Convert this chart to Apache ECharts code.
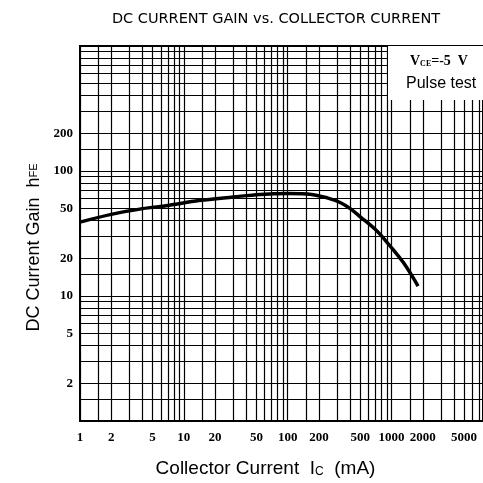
<!DOCTYPE html>
<html>
<head>
<meta charset="utf-8">
<script src="https://cdn.jsdelivr.net/npm/echarts@6/dist/echarts.min.js"></script>
<style>
html,body{margin:0;padding:0;background:#fff;}
#c{width:483px;height:483px;}
</style>
</head>
<body>
<div id="c"></div>
<script>
// Data
const currentMA = [1, 2, 4, 7, 14, 30, 54, 104, 170, 240, 320, 400, 500, 700, 900, 1300, 1800];
const gainHFE  = [39, 45, 50, 53, 58, 62, 65, 66, 65, 61, 56, 50, 43, 34, 27, 18.5, 12];
const xTickLabels = [1, 2, 5, 10, 20, 50, 100, 200, 500, 1000, 2000, 5000];
const yTickLabels = [2, 5, 10, 20, 50, 100, 200];
const xGridValues = [1,1.5,2,3,4,5,6,7,8,9,10,15,20,30,40,50,60,70,80,90,100,150,200,300,400,500,600,700,800,900,1000,1500,2000,3000,4000,5000,6000,7000];
const yGridValues = [1,1.5,2,3,4,5,6,7,8,9,10,15,20,30,40,50,60,70,80,90,100,150,200,300,400,500,600,700,800,900,1000];

const chart = echarts.init(document.getElementById('c'), null, {renderer: 'canvas'});
const labelFont = {fontFamily: 'Liberation Serif', fontWeight: 'bold', fontSize: 13, color: '#000'};
chart.setOption({
  backgroundColor: '#fff',
  animation: false,
  title: {
    text: 'DC CURRENT GAIN vs. COLLECTOR CURRENT',
    left: 271, top: 7, textAlign: 'center',
    textStyle: {fontFamily: 'DejaVu Sans', fontWeight: 'normal', fontSize: 14.5, color: '#000'}
  },
  grid: {left: 80, top: 46, right: 0, bottom: 59, show: true, borderColor: '#000', borderWidth: 2, backgroundColor: 'transparent'},
  xAxis: {
    type: 'log', logBase: 10, min: 1, max: 7600,
    name: 'Collector Current  I{sub|C}  (mA)',
    nameLocation: 'middle', nameGap: 38,
    nameTextStyle: {fontFamily: 'Liberation Sans', fontSize: 19, color: '#000', padding: [0, 32, 0, 0],
      rich: {sub: {fontFamily: 'Liberation Sans', fontSize: 12, color: '#000', padding: [6,0,0,0]}}},
    axisLine: {show: true, lineStyle: {color: '#000', width: 2}},
    axisTick: {show: false, customValues: xGridValues},
    axisLabel: Object.assign({customValues: xTickLabels, margin: 10, formatter: v => String(Math.round(v))}, labelFont),
    splitLine: {show: true, lineStyle: {color: '#000', width: 1.2}},
    minorSplitLine: {show: false}
  },
  yAxis: {
    type: 'log', logBase: 10, min: 1, max: 1000,
    name: 'DC Current Gain  h{sub|FE}',
    nameLocation: 'middle', nameGap: 31, nameRotate: 90,
    nameTextStyle: {fontFamily: 'Liberation Sans', fontSize: 18, color: '#000', padding: [0, 28, 0, 0],
      rich: {sub: {fontFamily: 'Liberation Sans', fontSize: 11, color: '#000'}}},
    axisLine: {show: true, lineStyle: {color: '#000', width: 2}},
    axisTick: {show: false, customValues: yGridValues},
    axisLabel: Object.assign({customValues: yTickLabels, margin: 7, formatter: v => String(Math.round(v))}, labelFont),
    splitLine: {show: true, lineStyle: {color: '#000', width: 1.2}}
  },
  series: [{
    type: 'line',
    data: currentMA.map((x, i) => [x, gainHFE[i]]),
    smooth: 0.35,
    showSymbol: false,
    lineStyle: {color: '#000', width: 3.5},
    z: 5
  }],
  graphic: [
    {type: 'rect', shape: {x: 388, y: 46, width: 95, height: 54}, style: {fill: '#fff'}, z: 10},
    {type: 'text', left: 410, top: 54, z: 11,
      style: {text: '{v|V}{s|CE}{v|=-5  V}', rich: {
        v: {fontFamily: 'Liberation Serif', fontWeight: 'bold', fontSize: 14, fill: '#000'},
        s: {fontFamily: 'Liberation Serif', fontWeight: 'bold', fontSize: 8, fill: '#000', padding: [5,0,0,0]}
      }}},
    {type: 'text', left: 406, top: 76, z: 11,
      style: {text: 'Pulse test', fontFamily: 'Liberation Sans', fontSize: 16, fill: '#000'}}
  ]
});
</script>
</body>
</html>
